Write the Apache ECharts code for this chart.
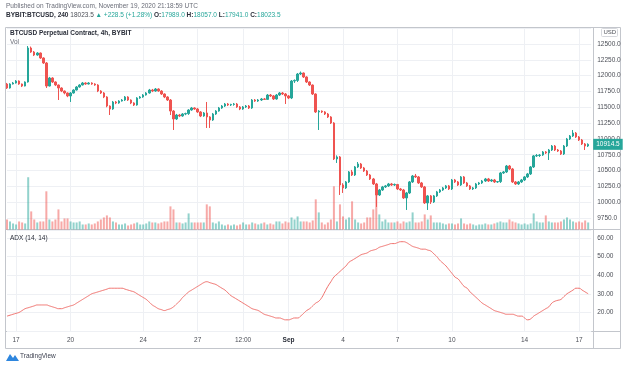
<!DOCTYPE html>
<html><head><meta charset="utf-8">
<script src="https://cdn.jsdelivr.net/npm/echarts@6/dist/echarts.min.js"></script>
<style>html,body{margin:0;padding:0;background:#fff}#c{width:628px;height:368px}</style>
</head><body><div id="c"></div>
<script>
// [open, close, low, high] per 4h candle, BYBIT BTCUSD, Aug 16 12:00 -> Sep 17 12:00 (2020)
const candles = [
[11868,11805,11790,11885],[11805,11868,11795,11880],[11868,11884,11860,11900],[11884,11915,11875,11930],[11915,11868,11855,11925],
[11868,11836,11820,11875],[11836,11900,11830,11910],[11900,12437,11890,12468],[12437,12374,12360,12460],[12374,12326,12310,12390],
[12326,12358,12315,12372],[12358,12279,12265,12365],[12279,12200,12185,12290],[12200,11836,11805,12215],[11836,11963,11830,11980],
[11963,11900,11885,11975],[11900,11852,11835,11910],[11852,11805,11615,11860],[11805,11757,11740,11815],[11757,11726,11705,11765],
[11726,11679,11660,11735],[11679,11726,11584,11740],[11726,11773,11715,11785],[11773,11821,11765,11835],[11821,11852,11810,11865],
[11852,11884,11845,11900],[11884,11868,11855,11895],[11868,11884,11860,11898],[11884,11868,11855,11895],[11868,11852,11840,11880],
[11852,11757,11740,11865],[11757,11726,11710,11770],[11726,11663,11645,11740],[11663,11520,11500,11675],[11520,11473,11378,11530],
[11473,11584,11460,11600],[11584,11568,11550,11600],[11568,11599,11555,11612],[11599,11615,11590,11630],[11615,11663,11600,11678],
[11663,11615,11600,11675],[11615,11568,11550,11625],[11568,11536,11520,11580],[11536,11647,11525,11660],[11647,11663,11635,11678],
[11663,11694,11650,11708],[11694,11726,11685,11740],[11726,11773,11715,11790],[11773,11757,11740,11790],[11757,11789,11745,11805],
[11789,11757,11745,11800],[11757,11710,11695,11770],[11710,11663,11645,11720],[11663,11615,11600,11675],[11615,11441,11378,11630],
[11441,11315,11141,11455],[11315,11378,11300,11395],[11378,11362,11345,11395],[11362,11394,11350,11408],[11394,11400,11375,11415],
[11400,11457,11380,11470],[11457,11489,11445,11505],[11489,11473,11460,11500],[11473,11426,11410,11490],[11426,11362,11345,11440],
[11362,11410,11350,11425],[11410,11347,11173,11584],[11347,11299,11173,11360],[11299,11394,11285,11410],[11394,11441,11380,11455],
[11441,11489,11430,11505],[11489,11520,11475,11535],[11520,11552,11505,11568],[11552,11536,11520,11568],[11536,11545,11520,11555],
[11545,11552,11525,11568],[11552,11505,11490,11568],[11505,11473,11455,11520],[11473,11505,11460,11520],[11505,11520,11490,11536],
[11520,11489,11473,11536],[11489,11615,11475,11630],[11615,11599,11585,11630],[11599,11615,11585,11630],[11615,11631,11600,11647],
[11631,11625,11615,11647],[11625,11694,11620,11710],[11694,11679,11663,11710],[11679,11631,11615,11694],[11631,11694,11620,11710],
[11694,11726,11680,11742],[11726,11710,11694,11742],[11710,11679,11552,11726],[11679,11647,11630,11694],[11647,11915,11630,11931],
[11915,11925,11885,11940],[11925,12026,11900,12042],[12026,12042,12010,12065],[12042,11979,11963,12050],[11979,11900,11884,11990],
[11900,11852,11836,11910],[11852,11710,11694,11860],[11710,11426,11410,11720],[11426,11440,11141,11455],[11440,11426,11410,11450],
[11426,11394,11378,11440],[11394,11347,11331,11410],[11347,11252,11236,11360],[11252,10683,10667,11265],[10683,10715,10620,10740],
[10715,10272,10114,10730],[10272,10225,10146,10300],[10225,10320,10209,10335],[10320,10478,10304,10493],[10478,10430,10414,10510],
[10430,10557,10414,10572],[10557,10604,10541,10635],[10604,10541,10525,10620],[10541,10493,10478,10557],[10493,10430,10414,10509],
[10430,10367,10351,10446],[10367,10288,10272,10383],[10288,10114,9925,10304],[10114,10193,10099,10209],[10193,10241,10178,10257],
[10241,10257,10225,10272],[10257,10288,10241,10304],[10288,10272,10257,10304],[10272,10280,10257,10295],[10280,10209,10193,10288],
[10209,10193,10178,10225],[10193,10067,10051,10209],[10067,10146,9877,10162],[10146,10320,10130,10335],[10320,10414,10304,10430],
[10414,10399,10383,10446],[10399,10304,10288,10414],[10304,10241,10225,10320],[10241,9988,9972,10257],[9988,10099,9877,10114],
[10099,10004,9972,10114],[10004,10099,9988,10114],[10099,10162,10083,10178],[10162,10193,10146,10209],[10193,10225,10178,10241],
[10225,10257,10209,10272],[10257,10209,10193,10272],[10209,10351,10193,10367],[10351,10320,10304,10367],[10320,10272,10257,10335],
[10272,10399,10257,10414],[10399,10304,10288,10414],[10304,10257,10241,10320],[10257,10209,10193,10272],[10209,10225,10193,10241],
[10225,10288,10209,10304],[10288,10304,10272,10320],[10304,10335,10288,10351],[10335,10367,10320,10383],[10367,10335,10320,10383],
[10335,10351,10320,10367],[10351,10320,10304,10367],[10320,10325,10304,10335],[10325,10462,10304,10478],[10462,10478,10446,10493],
[10478,10572,10462,10588],[10572,10525,10509,10588],[10525,10320,10304,10541],[10320,10288,10272,10335],[10288,10320,10272,10335],
[10320,10351,10304,10367],[10351,10399,10335,10414],[10399,10446,10383,10462],[10446,10557,10430,10572],[10557,10731,10541,10746],
[10731,10738,10715,10762],[10738,10746,10715,10762],[10746,10794,10731,10809],[10794,10778,10762,10809],[10778,10825,10667,10841],
[10825,10888,10809,10904],[10888,10825,10809,10904],[10825,10809,10794,10841],[10809,10762,10746,10825],[10762,10888,10746,10904],
[10888,10999,10872,11015],[10999,11046,10983,11062],[11046,11093,11031,11141],[11093,11031,11015,11109],[11031,10983,10967,11046],
[10983,10920,10904,10999],[10920,10888,10825,10935],[10888,10914.5,10872,10930]
];
const volumes = [
100,80,60,50,80,70,60,520,180,100, 70,80,80,380,100,80,100,200,80,110,
110,80,70,70,80,50,50,60,50,60, 80,100,120,140,120,80,70,50,50,60,
40,50,60,70,50,50,60,80,70,70, 60,70,80,80,230,200,70,70,60,70,
160,70,70,70,70,70,250,230,70,60, 80,50,40,50,40,50,40,50,70,50,
50,70,60,50,60,70,50,60,50,80, 80,60,80,70,120,100,130,80,80,80,
70,90,300,170,70,50,70,100,430,80, 250,130,100,120,280,100,70,60,70,120,
120,200,380,150,80,100,70,70,70,80, 60,80,70,80,170,70,70,80,150,100,
140,70,70,70,60,50,60,60,50,60, 110,60,50,60,50,40,50,50,60,50,
50,60,70,80,70,70,100,80,70,60, 50,60,50,60,160,80,70,70,140,80,
70,70,70,80,100,120,100,80,70,80, 70,90,70
];
const adx = [
18,18.5,19,19.5,20,21,22,22.5,23,23.5, 24,24,24,24,23.5,23,22.5,22,22,22.5,
23,23.5,24,25,26,27,28,29,30,30.5, 31,31.5,32,32.5,33,33,33,33,33,32.5,
32,31.5,31,30,29,28,27,25.5,24,23, 22,21.5,21,21.5,22,23,24.5,26,28,29.5,
31,32,33,34,35,36,36.5,36,35.5,35, 34,33,32,30.5,29,28,27,26,25,24,
23,22,21.5,21,20,19,18.5,18,17.5,17, 17,16.5,16,16,16.5,17,17,18,19.5,21,
22,23.5,25,26,28,31,34,36.5,39,40.5, 42,43.5,45,47,48,49,50,51,51.5,52,
53,53.5,54,55,55.5,56,56.5,57,57,57.5, 58,58,57.5,56.5,55.5,55,54.5,54,54,53.5,
53,51.5,50,48,46.5,45,43,41,39,38, 36,34,33,31,29.5,28,26.5,25,24,23,
22,21,20.5,20,19.5,19,19,19,18.5,18, 18,17,16,16.5,18,19,20,21,22,23,
25,26,26.5,27,28.5,30,31,32,33,33, 32,31,30
];
// time-axis tick labels keyed by candle index
const tickLabels = {3:'17',21:'20',45:'24',63:'27',78:'12:00',93:'Sep',111:'4',129:'7',147:'10',171:'14',189:'17'};

const UP = '#26a69a', DOWN = '#ef5350';
const VUP = 'rgba(38,166,154,0.5)', VDOWN = 'rgba(239,83,80,0.5)';
const GRID = '#eef0f4', FRAME = '#c3c6cc', TXT = '#4c4f57';
const FONT = 'Liberation Sans, Arial, sans-serif';

const cats = candles.map((_, i) => String(i)).concat(['']);
const isTick = (i) => Object.prototype.hasOwnProperty.call(tickLabels, i);
const L = 7, R = 36.8;

const xBase = (gi) => ({
  gridIndex: gi, type: 'category', data: cats, boundaryGap: false,
  axisLine: {show: false}, axisTick: {show: false}, axisLabel: {show: false},
  splitLine: {show: true, interval: (i) => isTick(i), lineStyle: {color: GRID, width: 1}}
});
const x2 = xBase(2);
x2.axisLabel = {show: true, interval: 0, margin: 6, fontSize: 6.5, color: TXT, fontFamily: FONT,
  formatter: (v, i) => { const t = tickLabels[i]; if (!t) return ''; return t === 'Sep' ? '{b|Sep}' : t; },
  rich: {b: {fontWeight: 'bold', fontSize: 6.5, color: '#2a2e39', fontFamily: FONT}}};

const txt = (x, y, s, fill, size, weight) => ({type: 'text', silent: true, x: x, y: y, z: 100,
  style: {text: s, fill: fill, fontSize: size, fontWeight: weight || 'normal', fontFamily: FONT, textVerticalAlign: 'top'}});

const lastClose = candles[candles.length - 1][1];

const chart = echarts.init(document.getElementById('c'), null, {renderer: 'canvas'});
chart.setOption({
  animation: false,
  backgroundColor: '#fff',
  grid: [
    {left: L, right: R, top: 28.2, bottom: 150},
    {left: L, right: R, top: 129, bottom: 138.5},
    {left: L, right: R, top: 230, bottom: 37}
  ],
  xAxis: [xBase(0), xBase(1), x2],
  yAxis: [
    {gridIndex: 0, type: 'value', position: 'right', min: 9750, max: 12750, interval: 250,
     axisLine: {show: false}, axisTick: {show: false},
     axisLabel: {margin: 6, fontSize: 6.5, color: TXT, fontFamily: FONT, showMaxLabel: false,
       formatter: (v) => v > 12500 ? '' : v.toFixed(1)},
     splitLine: {lineStyle: {color: GRID}}},
    {gridIndex: 1, type: 'value', min: 0, max: 1000, show: false},
    {gridIndex: 2, type: 'value', position: 'right', min: 10, max: 64.3, interval: 10,
     axisLine: {show: false}, axisTick: {show: false},
     axisLabel: {margin: 6, fontSize: 6.5, color: TXT, fontFamily: FONT, showMinLabel: false, showMaxLabel: false,
       formatter: (v) => v.toFixed(2)},
     splitLine: {lineStyle: {color: GRID}}}
  ],
  series: [
    {type: 'bar', xAxisIndex: 1, yAxisIndex: 1, barWidth: 2, silent: true,
     data: volumes.map((v, i) => ({value: v, itemStyle: {color: candles[i][1] >= candles[i][0] ? VUP : VDOWN}}))},
    {type: 'candlestick', xAxisIndex: 0, yAxisIndex: 0, barWidth: 2, clip: false, silent: true,
     data: candles,
     itemStyle: {color: UP, color0: DOWN, borderColor: UP, borderColor0: DOWN, borderWidth: 1},
     markLine: {silent: true, symbol: ['none', 'none'], animation: false,
       data: [{yAxis: lastClose}],
       lineStyle: {color: 'rgba(0,0,0,0)', width: 0.01, type: 'solid'},
       label: {show: true, position: 'end', distance: 2, formatter: () => lastClose.toFixed(1),
         backgroundColor: UP, color: '#fff', fontSize: 6.5, fontFamily: FONT, padding: [2, 3, 2, 3], opacity: 1}}},
    {type: 'line', xAxisIndex: 2, yAxisIndex: 2, data: adx, smooth: true, symbol: 'none', silent: true,
     lineStyle: {color: '#f0706c', width: 1}}
  ],
  graphic: [
    {type: 'rect', silent: true, shape: {x: 5.5, y: 27.5, width: 615, height: 321}, style: {fill: 'none', stroke: FRAME, lineWidth: 1}},
    {type: 'line', silent: true, shape: {x1: 5.5, y1: 229.5, x2: 620.5, y2: 229.5}, style: {stroke: FRAME, lineWidth: 1}},
    {type: 'line', silent: true, shape: {x1: 5.5, y1: 331.5, x2: 620.5, y2: 331.5}, style: {stroke: FRAME, lineWidth: 1}},
    {type: 'line', silent: true, shape: {x1: 593.5, y1: 27.5, x2: 593.5, y2: 348.5}, style: {stroke: FRAME, lineWidth: 1}},
    txt(6, 3, 'Published on TradingView.com, November 19, 2020 21:18:59 UTC', '#6a6d78', 6.5),
    {type: 'text', silent: true, x: 6, y: 12, z: 100, style: {
      text: '{b|BYBIT:BTCUSD, 240} {n|18023.5} {g|\u25B2 +228.5 (+1.28%)} {b|O:}{g|17989.0} {b|H:}{g|18057.0} {b|L:}{g|17941.0} {b|C:}{g|18023.5}',
      textVerticalAlign: 'top', fontSize: 6.5, fontFamily: FONT,
      rich: {b: {fontWeight: 'bold', fill: '#2a2e39', fontSize: 6.5, fontFamily: FONT},
             n: {fill: '#4c4f57', fontSize: 6.5, fontFamily: FONT},
             g: {fill: UP, fontSize: 6.5, fontFamily: FONT}}}},
    txt(10, 30, 'BTCUSD Perpetual Contract, 4h, BYBIT', '#2a2e39', 6.5, 'bold'),
    txt(10, 39, 'Vol', '#6a6d78', 6.5),
    txt(10, 235, 'ADX (14, 14)', '#2a2e39', 6.5),
    {type: 'rect', silent: true, shape: {x: 601.5, y: 28.5, width: 16, height: 8, r: 1}, style: {fill: '#fff', stroke: '#d6d8dd', lineWidth: 1}},
    txt(603.5, 29.5, 'USD', '#4c4f57', 6),
    {type: 'polygon', silent: true, shape: {points: [[6, 361], [10, 354], [13, 358], [15, 355], [19, 361]]}, style: {fill: '#2e86de'}},
    txt(20, 353, 'TradingView', '#3d4150', 6.5)
  ]
});
</script></body></html>
